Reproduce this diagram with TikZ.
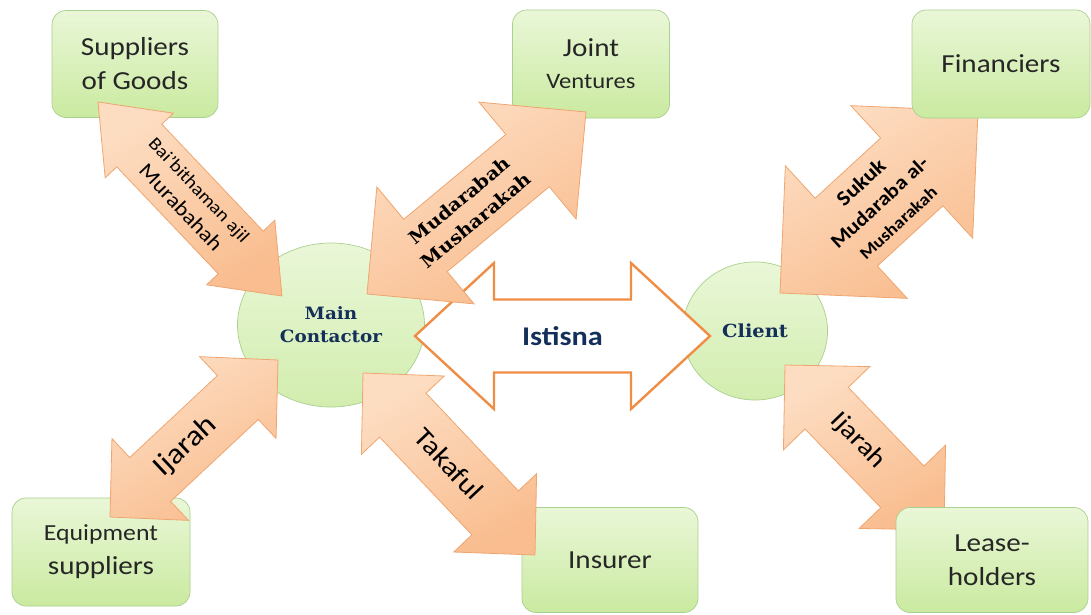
\documentclass[tikz,border=0pt]{standalone}
\usepackage{fontspec}
\setmainfont{Carlito}[FakeStretch=1.12]
\newfontfamily\slabfont{DejaVu Serif}[FakeStretch=1.08]
\usetikzlibrary{calc,shapes.geometric}

\definecolor{greenlight}{HTML}{EAF7D8}
\definecolor{greendark}{HTML}{CAEAA0}
\definecolor{greenline}{HTML}{A9D08E}
\definecolor{peachlight}{HTML}{FDDDC2}
\definecolor{peachdark}{HTML}{F9BD8F}
\definecolor{peachline}{HTML}{EFA56F}
\definecolor{istisnaline}{HTML}{EF8D45}
\definecolor{navy}{HTML}{14305A}

% block double arrow: [style]{tip a}{tip b}{head length}{head half width}{shaft half width}
\newcommand{\dblarrow}[6][blockarrow]{%
  \coordinate (#2p) at ($(#2)!#4!(#3)$);
  \coordinate (#2q) at ($(#3)!#4!(#2)$);
  \draw[#1] (#2) -- ($(#2p)!#5!90:(#3)$) -- ($(#2p)!#6!90:(#3)$)
    -- ($(#2q)!#6!-90:(#2)$) -- ($(#2q)!#5!-90:(#2)$) -- (#3)
    -- ($(#2q)!#5!90:(#2)$) -- ($(#2q)!#6!90:(#2)$)
    -- ($(#2p)!#6!-90:(#3)$) -- ($(#2p)!#5!-90:(#3)$) -- cycle;
}

\begin{document}
\begin{tikzpicture}[x=1pt, y=-1pt,
    party/.style={draw=greenline, line width=0.7pt, rounded corners=14pt, top color=greenlight, bottom color=greendark, align=center, text=black!85, font=\fontsize{26}{34}\selectfont},
    hub/.style={ellipse, draw=greenline, line width=0.7pt, top color=greenlight, bottom color=greendark!85!white, align=center, text=navy, font=\slabfont\bfseries\fontsize{17}{23}\selectfont},
    blockarrow/.style={draw=peachline, line width=0.8pt, line join=miter, top color=peachlight, bottom color=peachdark, shading angle=30},
    istisna/.style={draw=istisnaline, line width=2.4pt, line join=miter, fill=white},
    lbl/.style={sloped, align=center, text=black, inner sep=0pt}
]
\useasboundingbox (0,0) rectangle (1091,614);

% parties under the arrows
\node[party, minimum width=166pt, minimum height=107pt] (suppliers) at (135,64) {Suppliers\\of Goods};
\node[party, minimum width=157pt, minimum height=108pt, font=\fontsize{22}{32}\selectfont] (ventures) at (591,64) {{\fontsize{26}{30}\selectfont Joint}\\Ventures};
\node[party, minimum width=178pt, minimum height=108pt] (equipment) at (101,552) {{\fontsize{23}{30}\selectfont Equipment}\\suppliers};
\node[party, minimum width=176pt, minimum height=105pt] (insurer) at (610,560) {Insurer};

% the two contract parties
\node[hub, minimum width=187pt, minimum height=164pt] (contractor) at (331,325) {Main\\Contactor};
\node[hub, minimum width=145pt, minimum height=138pt, font=\slabfont\bfseries\fontsize{18}{22}\selectfont] (client) at (755,331) {Client};

% istisna between contractor and client
\coordinate (istA) at (415,336);
\coordinate (istB) at (710,336);
\dblarrow[istisna]{istA}{istB}{79pt}{73pt}{36.5pt}
\path (istA) -- node[text=navy, font=\bfseries\fontsize{27}{30}\selectfont] (istisnatext) {Istisna} (istB);

% contracts of the main contractor
\coordinate (baiA) at (98,102);
\coordinate (baiB) at (282,296);
\dblarrow{baiA}{baiB}{60pt}{47pt}{31pt}
\path (baiA) -- node[lbl, font=\fontsize{18}{26}\selectfont] {Bai’bithaman ajil\\{\fontsize{21}{24}\selectfont Murabahah}} (baiB);

\coordinate (mudA) at (367,294);
\coordinate (mudB) at (586,112);
\dblarrow{mudA}{mudB}{76pt}{76pt}{34pt}
\path (mudA) -- node[lbl, pos=0.46, font=\slabfont\bfseries\fontsize{18}{26}\selectfont] {Mudarabah\\Musharakah} (mudB);

\coordinate (ijlA) at (110,517);
\coordinate (ijlB) at (278,360);
\dblarrow{ijlA}{ijlB}{55pt}{56pt}{30pt}
\path (ijlA) -- node[lbl, pos=0.45, font=\fontsize{29}{32}\selectfont] {Ijarah} (ijlB);

\coordinate (takA) at (363,373);
\coordinate (takB) at (535,555);
\dblarrow{takA}{takB}{58pt}{57pt}{32pt}
\path (takA) -- node[lbl, font=\fontsize{27}{30}\selectfont] {Takaful} (takB);

% contracts of the client
\coordinate (sukA) at (780,293);
\coordinate (sukB) at (978,111);
\dblarrow{sukA}{sukB}{90pt}{90pt}{46pt}
\path (sukA) -- node[lbl, font=\bfseries\fontsize{20}{27}\selectfont] {{\fontsize{21}{21}\selectfont Sukuk}\\Mudaraba al-\\{\fontsize{17}{19}\selectfont Musharakah}} (sukB);

\coordinate (ijrA) at (785,365);
\coordinate (ijrB) at (944,530);
\dblarrow{ijrA}{ijrB}{60pt}{60pt}{30pt}
\path (ijrA) -- node[lbl, pos=0.46, font=\fontsize{26}{30}\selectfont] {Ijarah} (ijrB);

% parties over the arrows
\node[party, minimum width=178pt, minimum height=108pt] (financiers) at (1001,64) {Financiers};
\node[party, minimum width=192pt, minimum height=105pt] (leaseholders) at (992,560) {Lease-\\holders};
\end{tikzpicture}
\end{document}
